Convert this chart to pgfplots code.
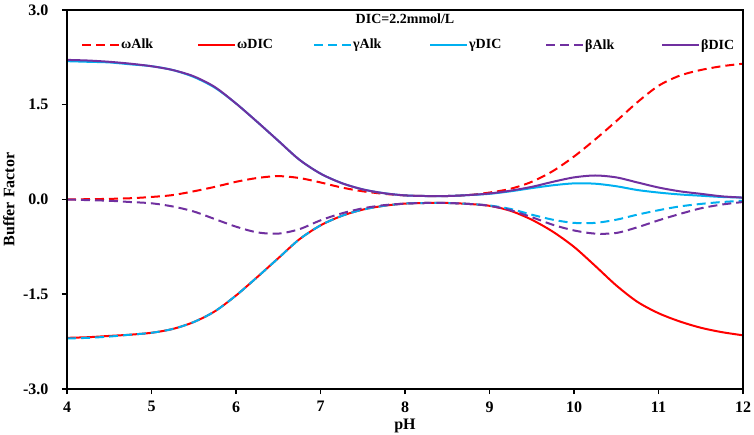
\documentclass[border=0pt]{standalone}
\usepackage{fontspec}
\setmainfont{Liberation Serif}
\usepackage{pgfplots}
\pgfplotsset{compat=1.18}
\usepackage{pgfplotstable}
\definecolor{cred}{HTML}{FF0000}
\definecolor{ccyan}{HTML}{00B0F0}
\definecolor{cpurple}{HTML}{7030A0}
\pgfplotstableread{
pH    wAlk   wDIC   gAlk   gDIC   bAlk   bDIC
4.00  0.00  -2.19  -2.20   2.19   0.00   2.21
4.25  0.005 -2.18  -2.19   2.18  -0.01   2.20
4.50  0.01  -2.16  -2.17   2.17  -0.02   2.18
4.75  0.02  -2.14  -2.14   2.14  -0.04   2.15
5.00  0.04  -2.11  -2.11   2.11  -0.06   2.11
5.25  0.07  -2.05  -2.05   2.05  -0.11   2.05
5.50  0.13  -1.94  -1.94   1.94  -0.19   1.95
5.75  0.20  -1.77  -1.77   1.77  -0.31   1.78
6.00  0.28  -1.52  -1.52   1.52  -0.43   1.52
6.25  0.34  -1.23  -1.23   1.23  -0.52   1.23
6.50  0.37  -0.93  -0.93   0.93  -0.54   0.93
6.75  0.34  -0.63  -0.63   0.63  -0.47   0.63
7.00  0.27  -0.41  -0.41   0.41  -0.33   0.41
7.25  0.19  -0.26  -0.26   0.26  -0.22   0.26
7.50  0.13  -0.16  -0.16   0.16  -0.14   0.16
7.75  0.09  -0.10  -0.10   0.10  -0.09   0.10
8.00  0.065 -0.065 -0.065  0.065 -0.065  0.065
8.25  0.055 -0.055 -0.055  0.055 -0.055  0.055
8.50  0.055 -0.055 -0.055  0.055 -0.055  0.055
8.75  0.07  -0.07  -0.07   0.07  -0.07   0.07
9.00  0.11  -0.10  -0.095  0.09  -0.10   0.095
9.25  0.17  -0.18  -0.15   0.13  -0.17   0.14
9.50  0.28  -0.32  -0.24   0.18  -0.28   0.20
9.75  0.45  -0.51  -0.32   0.225 -0.40   0.28
10.00 0.68  -0.75  -0.37   0.255 -0.49   0.35
10.25 0.95  -1.05  -0.37   0.25  -0.54   0.38
10.50 1.24  -1.36  -0.32   0.21  -0.53   0.35
10.75 1.54  -1.62  -0.24   0.15  -0.44   0.27
11.00 1.80  -1.80  -0.17   0.11  -0.33   0.19
11.25 1.96  -1.93  -0.11   0.08  -0.23   0.13
11.50 2.05  -2.03  -0.07   0.06  -0.14   0.09
11.75 2.11  -2.10  -0.04   0.04  -0.08   0.05
12.00 2.15  -2.15  -0.02   0.03  -0.04   0.03
}\data
\begin{document}
\begin{tikzpicture}
\path[use as bounding box] (0bp,0bp) rectangle (754bp,435bp);
% frame and data
\begin{axis}[name=ax1, at={(67bp,46bp)}, anchor=south west, scale only axis,
  width=676bp, height=379bp,
  xmin=4, xmax=12, ymin=-3, ymax=3,
  xtick=\empty, ytick=\empty,
  axis line style={black, line width=2.2bp},
  every axis plot/.append style={line width=2bp},
]
\addplot[cred, dash pattern=on 9bp off 5bp, smooth] table[x=pH, y=wAlk] {\data};
\addplot[cred, smooth] table[x=pH, y=wDIC] {\data};
\addplot[ccyan, dash pattern=on 9bp off 5bp, smooth] table[x=pH, y=gAlk] {\data};
\addplot[ccyan, smooth] table[x=pH, y=gDIC] {\data};
\addplot[cpurple, dash pattern=on 9bp off 5bp, smooth] table[x=pH, y=bAlk] {\data};
\addplot[cpurple, smooth] table[x=pH, y=bDIC] {\data};
\end{axis}
% ticks, labels, legend, title
\begin{axis}[name=ax2, at={(67bp,46bp)}, anchor=south west, scale only axis,
  width=676bp, height=379bp,
  xmin=4, xmax=12, ymin=-3, ymax=3,
  axis x line*=bottom, axis y line*=left,
  xtick={4,...,12}, xticklabels={4,5,6,7,8,9,10,11,12},
  ytick={-3,-1.5,0,1.5,3}, yticklabels={-3.0,-1.5,0.0,1.5,3.0},
  tick align=outside, major tick length=5bp,
  tick style={black, line width=1.5bp},
  axis line style={black, line width=2.2bp},
  ticklabel style={font=\fontsize{16bp}{18bp}\selectfont\bfseries},
  xticklabel style={yshift=-4bp},
  yticklabel style={xshift=-10bp},
  label style={font=\fontsize{16bp}{18bp}\selectfont\bfseries},
  xlabel={pH}, ylabel={Buffer Factor},
  xlabel style={at={(axis description cs:0.5,-0.097)}, anchor=center},
  ylabel style={at={(axis description cs:-0.086,0.5)}, anchor=center},
  legend columns=6, legend cell align=left,
  legend style={at={(axis description cs:0.0207,0.908)}, anchor=west,
    draw=none, fill=none, inner sep=0pt, column sep=0pt,
    nodes={inner sep=1bp}, font=\fontsize{14bp}{16bp}\selectfont\bfseries},
  legend image code/.code={\draw[#1] (0bp,0bp) -- (37bp,0bp);},
]
\addlegendimage{cred, line width=2bp, dash pattern=on 9bp off 5bp}
\addlegendentry{\makebox[75bp][l]{ωAlk}}
\addlegendimage{cred, line width=2bp}
\addlegendentry{\makebox[75bp][l]{ωDIC}}
\addlegendimage{ccyan, line width=2bp, dash pattern=on 9bp off 5bp}
\addlegendentry{\makebox[75bp][l]{γAlk}}
\addlegendimage{ccyan, line width=2bp}
\addlegendentry{\makebox[75bp][l]{γDIC}}
\addlegendimage{cpurple, line width=2bp, dash pattern=on 9bp off 5bp}
\addlegendentry{\makebox[75bp][l]{βAlk}}
\addlegendimage{cpurple, line width=2bp}
\addlegendentry{\makebox[40bp][l]{βDIC}}
\node[font=\fontsize{14bp}{16bp}\selectfont\bfseries] at (axis description cs:0.5,0.976) {DIC=2.2mmol/L};
\end{axis}
% top and right edges of the frame, at the axis box's own position
\draw[black, solid, line width=2.2bp, line cap=rect] (67bp,425bp) -- (743bp,425bp) -- (743bp,46bp);
\end{tikzpicture}
\end{document}
